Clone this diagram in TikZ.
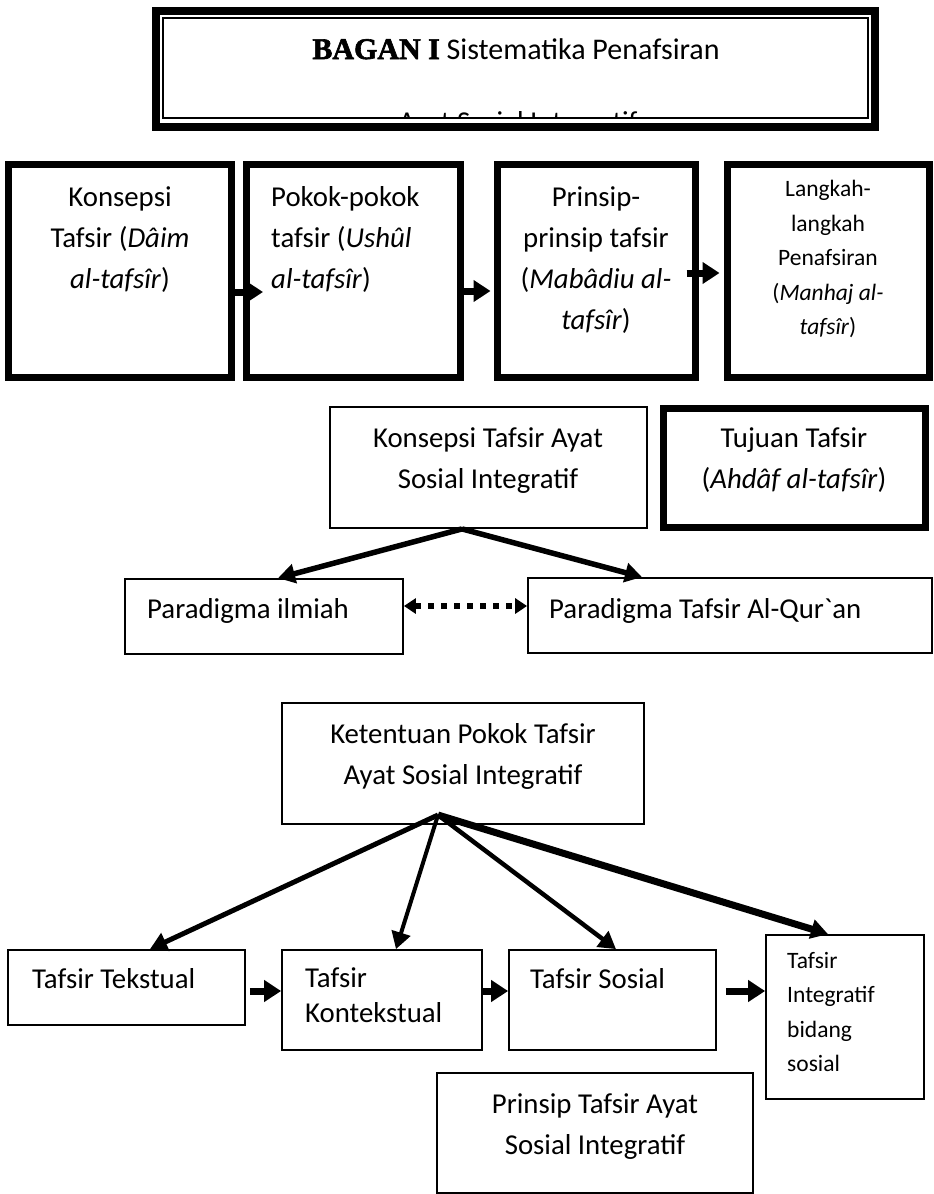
\documentclass[tikz,border=0pt]{standalone}
\usepackage{fontspec}
\setmainfont{Carlito}
\newfontfamily\bagfont[FakeBold=2]{Liberation Serif}
\usepackage{tikz}
\usetikzlibrary{arrows.meta}
\tikzset{
  tbox/.style={rectangle, draw=black, line width=7pt, inner sep=0pt},
  sbox/.style={rectangle, draw=black, line width=1.8pt, inner sep=0pt},
  txt/.style={inner sep=0pt, font=\fontsize{28.8}{41}\selectfont},
  stxt/.style={inner sep=0pt, font=\fontsize{23.5}{34.5}\selectfont},
  blk/.style={draw=black, line width=7pt, -{Triangle[length=17pt,width=21pt]}},
  fan/.style={draw=black, line width=5pt, -{Triangle[length=17pt,width=19pt]}},
  dots/.style={draw=black, line width=6pt, dash pattern=on 6pt off 7pt,
    {Triangle[length=12pt,width=15pt]}-{Triangle[length=12pt,width=15pt]}}
}
\begin{document}
\begin{tikzpicture}[x=1pt, y=-1pt]
  \useasboundingbox (0,0) rectangle (934,1194);
  % judul
  \node[tbox, line width=8pt, minimum width=719pt, minimum height=116pt] (ttl) at (515.5,69) {};
  \draw[line width=1.5pt] (163,18) rectangle (868,118);
  \node[txt, font=\fontsize{30}{35}\selectfont, anchor=base] (ttlt) at (516,59)
    {{\bagfont\bfseries BAGAN I} Sistematika Penafsiran};
  \begin{scope}
    \clip (164,19) rectangle (867,117);
    \node[txt, anchor=base] (ttls) at (518,131) {Ayat Sosial Integratif};
  \end{scope}
  % baris atas
  \node[tbox, minimum width=223pt, minimum height=213pt] (b1) at (120,271) {};
  \node[tbox, minimum width=214pt, minimum height=213pt] (b2) at (353.5,271) {};
  \node[tbox, minimum width=198pt, minimum height=213pt] (b3) at (596.5,271) {};
  \node[tbox, minimum width=202pt, minimum height=213pt] (b4) at (828.5,271) {};
  \node[txt, align=center, anchor=north] (b1t) at (120,186)
    {Konsepsi\\Tafsir (\textit{Dâim}\\\textit{al-tafsîr})};
  \node[txt, align=left, anchor=north west] (b2t) at (271,186)
    {Pokok-pokok\\tafsir (\textit{Ushûl}\\\textit{al-tafsîr})};
  \node[txt, align=center, anchor=north] (b3t) at (596,186)
    {Prinsip-\\prinsip tafsir\\(\textit{Mabâdiu al-}\\\textit{tafsîr})};
  \node[stxt, align=center, anchor=north] (b4t) at (828,180)
    {Langkah-\\langkah\\Penafsiran\\(\textit{Manhaj al-}\\\textit{tafsîr})};
  \draw[blk, shorten >=-20pt] (b1.east |- 0,292) -- (b2.west |- 0,292);
  \draw[blk, shorten >=3.5pt] (b2.east |- 0,291) -- (b3.west |- 0,291);
  \draw[blk, shorten <=-12.5pt, shorten >=4.5pt] (b3.east |- 0,273) -- (b4.west |- 0,273);
  % konsepsi
  \node[sbox, minimum width=317pt, minimum height=121pt] (kon) at (488.5,467.5) {};
  \node[tbox, minimum width=262pt, minimum height=119pt] (tuj) at (794.5,468) {};
  \node[txt, align=center, anchor=north] (kont) at (488,427)
    {Konsepsi Tafsir Ayat\\Sosial Integratif};
  \node[txt, align=center, anchor=north] (tujt) at (794,427)
    {Tujuan Tafsir\\(\textit{Ahdâf al-tafsîr})};
  \node[sbox, minimum width=278pt, minimum height=75pt] (par1) at (264,616.5) {};
  \node[sbox, minimum width=404pt, minimum height=75pt] (par2) at (730,615.5) {};
  \node[txt, anchor=base west] (par1t) at (147,618) {Paradigma ilmiah};
  \node[txt, anchor=base west] (par2t) at (549,618) {Paradigma Tafsir Al-Qur\textasciigrave an};
  \draw[fan, line width=5.5pt] (kon.south -| 462,0) -- (par1.north -| 278,0);
  \draw[fan, line width=5.5pt] (kon.south -| 462,0) -- (par2.north -| 642,0);
  \draw[dots] (par1.east |- 0,606) -- (par2.west |- 0,606);
  % ketentuan pokok
  \node[sbox, minimum width=362pt, minimum height=121pt] (ket) at (463,763.5) {};
  \node[txt, align=center, anchor=north] (kett) at (463,723)
    {Ketentuan Pokok Tafsir\\Ayat Sosial Integratif};
  \coordinate (ko) at (438,815);
  \node[sbox, minimum width=237pt, minimum height=75pt] (tek) at (126.5,987.5) {};
  \node[sbox, minimum width=200pt, minimum height=100pt] (ktx) at (382,1000) {};
  \node[sbox, minimum width=207pt, minimum height=100pt] (sos) at (612.5,1000) {};
  \node[sbox, minimum width=158pt, minimum height=164pt] (itg) at (845,1017) {};
  \node[txt, anchor=base west] (tekt) at (32,988) {Tafsir Tekstual};
  \node[txt, align=left, anchor=north west, font=\fontsize{28.8}{35}\selectfont] (ktxt) at (305,967)
    {Tafsir\\Kontekstual};
  \node[txt, anchor=base west] (sost) at (530,988) {Tafsir Sosial};
  \node[stxt, align=left, anchor=north west] (itgt) at (787,952)
    {Tafsir\\Integratif\\bidang\\sosial};
  \draw[fan] (ko) -- (tek.north -| 150,0);
  \draw[fan, line width=4pt] (ko) -- (ktx.north -| 396,0);
  \draw[fan, line width=4.5pt] (ko) -- (sos.north -| 616,0);
  \draw[fan, line width=7pt] (ko) -- (itg.north -| 828,0);
  \draw[blk, shorten <=4pt] (tek.east |- 0,991) -- (ktx.west |- 0,991);
  \draw[blk] (ktx.east |- 0,991) -- (sos.west |- 0,991);
  \draw[blk, shorten <=9pt] (sos.east |- 0,991) -- (itg.west |- 0,991);
  \node[sbox, minimum width=316pt, minimum height=120pt] (prn) at (595,1133) {};
  \node[txt, align=center, anchor=north] (prnt) at (595,1093)
    {Prinsip Tafsir Ayat\\Sosial Integratif};
\end{tikzpicture}
\end{document}
